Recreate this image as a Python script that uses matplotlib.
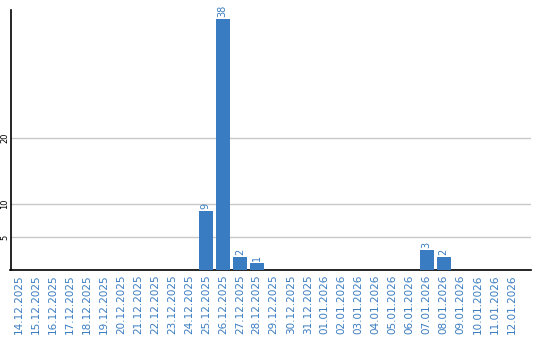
import matplotlib
matplotlib.use("Agg")
import matplotlib.pyplot as plt

dates = ["14.12.2025", "15.12.2025", "16.12.2025", "17.12.2025", "18.12.2025",
         "19.12.2025", "20.12.2025", "21.12.2025", "22.12.2025", "23.12.2025",
         "24.12.2025", "25.12.2025", "26.12.2025", "27.12.2025", "28.12.2025",
         "29.12.2025", "30.12.2025", "31.12.2025", "01.01.2026", "02.01.2026",
         "03.01.2026", "04.01.2026", "05.01.2026", "06.01.2026", "07.01.2026",
         "08.01.2026", "09.01.2026", "10.01.2026", "11.01.2026", "12.01.2026"]
values = [0, 0, 0, 0, 0, 0, 0, 0, 0, 0,
          0, 9, 38, 2, 1, 0, 0, 0, 0, 0,
          0, 0, 0, 0, 3, 2, 0, 0, 0, 0]
y_ticks = [5, 10, 20]

blue = "#3a7cc1"
W, H = 540, 340
fig = plt.figure(figsize=(W / 100, H / 100), dpi=100)
ax = fig.add_axes([10.5 / W, 1 - 270 / H, (531 - 10.5) / W, 260 / H])

x = list(range(len(dates)))
ax.bar(x, values, width=0.82, color=blue, zorder=3)
for xi, v in zip(x, values):
    if v > 0:
        ax.text(xi, v + 0.3, str(v), rotation=90, ha="center", va="bottom",
                color=blue, fontsize=7, zorder=4)

ax.set_xlim(-0.5, 30.15)
ax.set_ylim(0, 39.4)
ax.set_yticks(y_ticks)
ax.set_yticklabels([str(t) for t in y_ticks], rotation=90, fontsize=6,
                   va="center")
ax.tick_params(axis="y", length=0, pad=1)
ax.set_xticks(x)
ax.set_xticklabels(dates, rotation=90, fontsize=7.5, color=blue)
ax.tick_params(axis="x", length=0, pad=3)
ax.grid(axis="y", color="#c8c8c8", linewidth=1, zorder=0)
for s in ("top", "right"):
    ax.spines[s].set_visible(False)
for s in ("left", "bottom"):
    ax.spines[s].set_color("black")
    ax.spines[s].set_linewidth(1.2)

fig.savefig("out.png", dpi=100)
